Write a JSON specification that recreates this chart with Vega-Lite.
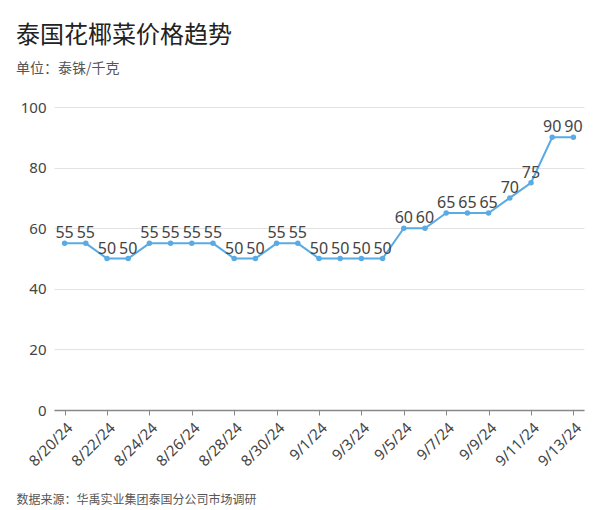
{
  "$schema": "https://vega.github.io/schema/vega-lite/v6.json",
  "width": 530,
  "height": 303,
  "autosize": {"type": "none"},
  "padding": {"left": 54, "top": 107, "right": 16, "bottom": 100},
  "background": "white",
  "config": {
    "font": "Noto Sans CJK SC",
    "view": {"stroke": null}
  },
  "title": {
    "text": "泰国花椰菜价格趋势",
    "subtitle": "单位：泰铢/千克",
    "anchor": "start",
    "frame": "group",
    "dx": -38,
    "offset": 24,
    "fontSize": 24,
    "fontWeight": "normal",
    "color": "#222222",
    "subtitleFontSize": 14,
    "subtitleColor": "#555555",
    "subtitlePadding": 14
  },
  "data": {
    "values": [
      {"date": "8/20/24", "price": 55},
      {"date": "8/21/24", "price": 55},
      {"date": "8/22/24", "price": 50},
      {"date": "8/23/24", "price": 50},
      {"date": "8/24/24", "price": 55},
      {"date": "8/25/24", "price": 55},
      {"date": "8/26/24", "price": 55},
      {"date": "8/27/24", "price": 55},
      {"date": "8/28/24", "price": 50},
      {"date": "8/29/24", "price": 50},
      {"date": "8/30/24", "price": 55},
      {"date": "8/31/24", "price": 55},
      {"date": "9/1/24", "price": 50},
      {"date": "9/2/24", "price": 50},
      {"date": "9/3/24", "price": 50},
      {"date": "9/4/24", "price": 50},
      {"date": "9/5/24", "price": 60},
      {"date": "9/6/24", "price": 60},
      {"date": "9/7/24", "price": 65},
      {"date": "9/8/24", "price": 65},
      {"date": "9/9/24", "price": 65},
      {"date": "9/10/24", "price": 70},
      {"date": "9/11/24", "price": 75},
      {"date": "9/12/24", "price": 90},
      {"date": "9/13/24", "price": 90}
    ]
  },
  "encoding": {
    "x": {
      "field": "date",
      "type": "ordinal",
      "sort": null,
      "scale": {"type": "point", "padding": 0.5},
      "axis": {
        "values": ["8/20/24", "8/22/24", "8/24/24", "8/26/24", "8/28/24", "8/30/24", "9/1/24", "9/3/24", "9/5/24", "9/7/24", "9/9/24", "9/11/24", "9/13/24"],
        "labelAngle": -45,
        "labelAlign": "right",
        "labelBaseline": "top",
        "labelFont": "Noto Sans",
        "labelFontSize": 15,
        "labelColor": "#444444",
        "labelPadding": 5,
        "tickColor": "#888888",
        "tickSize": 5,
        "domainColor": "#888888",
        "domainWidth": 1.5,
        "grid": false,
        "title": "数据来源：华禹实业集团泰国分公司市场调研",
        "titleAnchor": "start",
        "titleAlign": "left",
        "titleX": -38,
        "titleY": 84,
        "titleFontSize": 12,
        "titleFontWeight": "normal",
        "titleColor": "#555555"
      }
    },
    "y": {
      "field": "price",
      "type": "quantitative",
      "scale": {"domain": [0, 100]},
      "axis": {
        "values": [0, 20, 40, 60, 80, 100],
        "title": null,
        "domain": false,
        "ticks": false,
        "labelFont": "Noto Sans",
        "labelFontSize": 15,
        "labelColor": "#444444",
        "labelPadding": 8,
        "gridColor": "#e3e3e3"
      }
    }
  },
  "layer": [
    {
      "mark": {"type": "line", "color": "#5aaae3", "strokeWidth": 2}
    },
    {
      "mark": {"type": "point", "filled": true, "color": "#5aaae3", "size": 30, "opacity": 1}
    },
    {
      "mark": {"type": "text", "dy": -10, "font": "Noto Sans", "fontSize": 16, "color": "#444444"},
      "encoding": {"text": {"field": "price", "type": "quantitative"}}
    }
  ]
}
